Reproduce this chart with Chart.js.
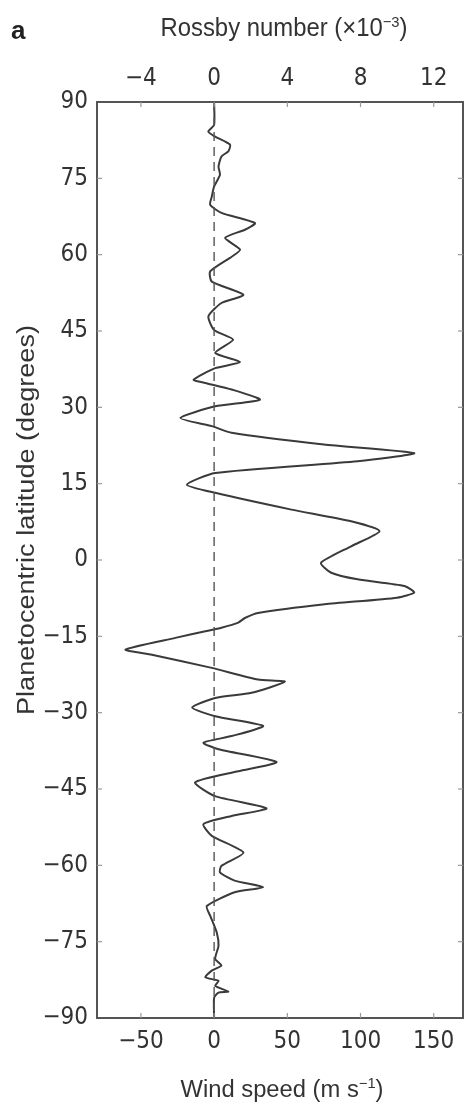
<!DOCTYPE html>
<html><head><meta charset="utf-8">
<script src="https://cdn.jsdelivr.net/npm/chart.js@4.4.1/dist/chart.umd.min.js"></script>
<style>html,body{margin:0;padding:0;background:#fff;}canvas{display:block;}</style>
</head><body>
<canvas id="c" width="467" height="1115"></canvas>
<script>
// ---- data ----
const latitude = [90, 85.5, 84.2, 83.2, 81.6, 80.3, 79.3, 77.3, 75.7, 73.4, 71.4, 69.8, 68.2, 66.2, 64.9, 63.3, 61, 59.6, 56.7, 54.7, 52.1, 50.5, 47.9, 45.2, 43.3, 40.7, 38.9, 37.7, 35.4, 34.8, 33.5, 31.5, 30.2, 27.9, 26.3, 25, 22.7, 21.0, 19.4, 17.1, 14.8, 13.2, 9.9, 7.6, 5.65, 2.7, -0.55, -2.5, -3.8, -5.1, -6.4, -7.4, -8.7, -10.4, -11.4, -12.3, -13.3, -14, -15.3, -17.6, -18.6, -21.2, -23.5, -23.9, -26.1, -27.1, -29, -30.7, -32.6, -34.6, -35.9, -37.2, -39.7, -41.5, -43.7, -46.4, -48.8, -50.3, -51.9, -54.2, -57.5, -60.1, -61.4, -63, -64.3, -65.3, -68, -69.9, -73.2, -75.8, -78.4, -79.7, -80.7, -82, -82.7, -83.7, -84.8, -85, -86, -90];
const windSpeed = [0, 0, -4, 0.7, 10.9, 9.7, 5, 3, 4, 0, -1.6, -2.7, 5, 27.9, 21, 7.5, 17.7, 12, -2.7, -1.6, 20, 5, -3.9, 0, 13, 0.7, 17.7, 0.7, -14, -6, 12, 31.3, 0.7, -23, -1.6, 12, 75, 136.7, 98, 0.7, -18.6, 0.7, 52.8, 93.6, 113, 93.6, 73, 80, 98, 130, 136.7, 125, 75.5, 30, 21, 16.5, 5, -6, -26.5, -60.5, -42.5, -1.6, 30, 48.3, 25.6, 0.7, -15, 0.7, 33.5, 12, -7.3, 3, 42.6, 16.5, -13, 0.7, 35.8, 12, -7.3, -1.6, 20, 5, 4, 14, 33.5, 14, -5, -2.7, 1.8, 3, 0.7, 5, -1.6, -6, 3, 0.7, 9.7, 3, 0, 0];
const zeroLineLat = [90, -90];
const zeroLineWind = [0, 0];
const latTicks = [90, 75, 60, 45, 30, 15, 0, -15, -30, -45, -60, -75, -90];
const windTicks = [-50, 0, 50, 100, 150];
const rossbyTicks = [-4, 0, 4, 8, 12];
const windMin = -80, windMax = 170;
const windPerRossby = 12.5; // m/s per 1e-3 Rossby

// ---- styling ----
const FF = "'Liberation Sans Narrow','Arial Narrow','DejaVu Sans Condensed','Liberation Sans',sans-serif";
const TF = "'Liberation Sans',Arial,sans-serif";
const TXT = '#333';
const fmt = v => v < 0 ? '\u2212' + Math.abs(v) : String(v);

const profile = latitude.map((la, i) => ({x: windSpeed[i], y: la}));
const zeroLine = zeroLineLat.map((la, i) => ({x: zeroLineWind[i], y: la}));

function setTicks(arr){ return s => { s.ticks = arr.map(v => ({value: v})); }; }

const innerTicks = {
  id: 'innerTicks',
  afterDatasetsDraw(chart){
    const {ctx, chartArea: a, scales: s} = chart;
    ctx.save(); ctx.strokeStyle = '#9a9a9a'; ctx.lineWidth = 1.2; const L = 5;
    const ln = (x1,y1,x2,y2)=>{ctx.beginPath();ctx.moveTo(x1,y1);ctx.lineTo(x2,y2);ctx.stroke();};
    latTicks.forEach(v => { if (Math.abs(v) === 90) return; const y = s.y.getPixelForValue(v); ln(a.left, y, a.left+L, y); ln(a.right, y, a.right-L, y); });
    windTicks.forEach(v => { const x = s.x.getPixelForValue(v); ln(x, a.bottom, x, a.bottom-L); });
    rossbyTicks.forEach(v => { const x = s.x2.getPixelForValue(v); ln(x, a.top, x, a.top+L); });
    ctx.restore();
  }
};

function richWidth(ctx, segs, size){
  let w = 0;
  segs.forEach(sg => { ctx.font = (sg.sup ? size*0.62 : size) + 'px ' + TF; w += ctx.measureText(sg.t).width; });
  return w;
}
function drawRich(ctx, segs, size, cx, by, targetW){
  const w = richWidth(ctx, segs, size);
  const k = targetW ? targetW / w : 1;
  ctx.save(); ctx.translate(cx, by); ctx.scale(k, 1);
  let x = -w/2;
  ctx.textBaseline = 'alphabetic'; ctx.textAlign = 'left'; ctx.fillStyle = TXT;
  segs.forEach(sg => {
    ctx.font = (sg.sup ? size*0.62 : size) + 'px ' + TF;
    ctx.fillText(sg.t, x, sg.sup ? -size*0.38 : 0);
    x += ctx.measureText(sg.t).width;
  });
  ctx.restore();
}

const titles = {
  id: 'titles',
  afterDraw(chart){
    const ctx = chart.ctx;
    drawRich(ctx, [{t:'Rossby number (\u00d710'},{t:'\u22123',sup:true},{t:')'}], 25, 284, 36, 247);
    drawRich(ctx, [{t:'Wind speed (m s'},{t:'\u22121',sup:true},{t:')'}], 23, 282, 1097, 203);
    ctx.save(); ctx.translate(34, 520); ctx.rotate(-Math.PI/2);
    drawRich(ctx, [{t:'Planetocentric latitude (degrees)'}], 23, 0, 0, 390);
    ctx.restore();
    ctx.save(); ctx.font = "bold 26px 'Liberation Sans',sans-serif"; ctx.fillStyle = '#222';
    ctx.textBaseline = 'alphabetic'; ctx.fillText('a', 11, 39); ctx.restore();
  }
};

const tickFont = {family: FF, size: 24};
const noGrid = {display: false, drawTicks: false};
const border = {display: true, color: '#555', width: 2};

new Chart(document.getElementById('c'), {
  type: 'scatter',
  data: { datasets: [
    { data: zeroLine, showLine: true, borderColor: '#555', borderWidth: 1.4, borderDash: [9, 6], pointRadius: 0, xAxisID: 'x', yAxisID: 'y' },
    { data: profile, showLine: true, borderColor: '#3a3a3a', borderWidth: 2, pointRadius: 0, tension: 0.2, xAxisID: 'x', yAxisID: 'y' }
  ]},
  options: {
    responsive: false, animation: false, devicePixelRatio: 1,
    layout: { padding: 0 },
    plugins: { legend: {display: false}, tooltip: {enabled: false} },
    scales: {
      x: { type: 'linear', position: 'bottom', min: windMin, max: windMax,
           afterBuildTicks: setTicks(windTicks), afterFit: s => { s.height = 97; },
           ticks: { font: tickFont, color: TXT, padding: 9, maxRotation: 0, callback: fmt },
           grid: noGrid, border },
      x2: { type: 'linear', position: 'top', min: windMin / windPerRossby, max: windMax / windPerRossby,
           afterBuildTicks: setTicks(rossbyTicks), afterFit: s => { s.height = 102; },
           ticks: { font: tickFont, color: TXT, padding: 9, maxRotation: 0, callback: fmt },
           grid: noGrid, border },
      y: { type: 'linear', position: 'left', min: -90, max: 90,
           afterBuildTicks: setTicks(latTicks), afterFit: s => { s.width = 97; },
           ticks: { font: tickFont, color: TXT, padding: 9, callback: fmt },
           grid: noGrid, border },
      y2: { type: 'linear', position: 'right', min: -90, max: 90,
           afterFit: s => { s.width = 4; },
           ticks: { display: false }, grid: noGrid, border }
    }
  },
  plugins: [innerTicks, titles]
});
</script>
</body></html>
